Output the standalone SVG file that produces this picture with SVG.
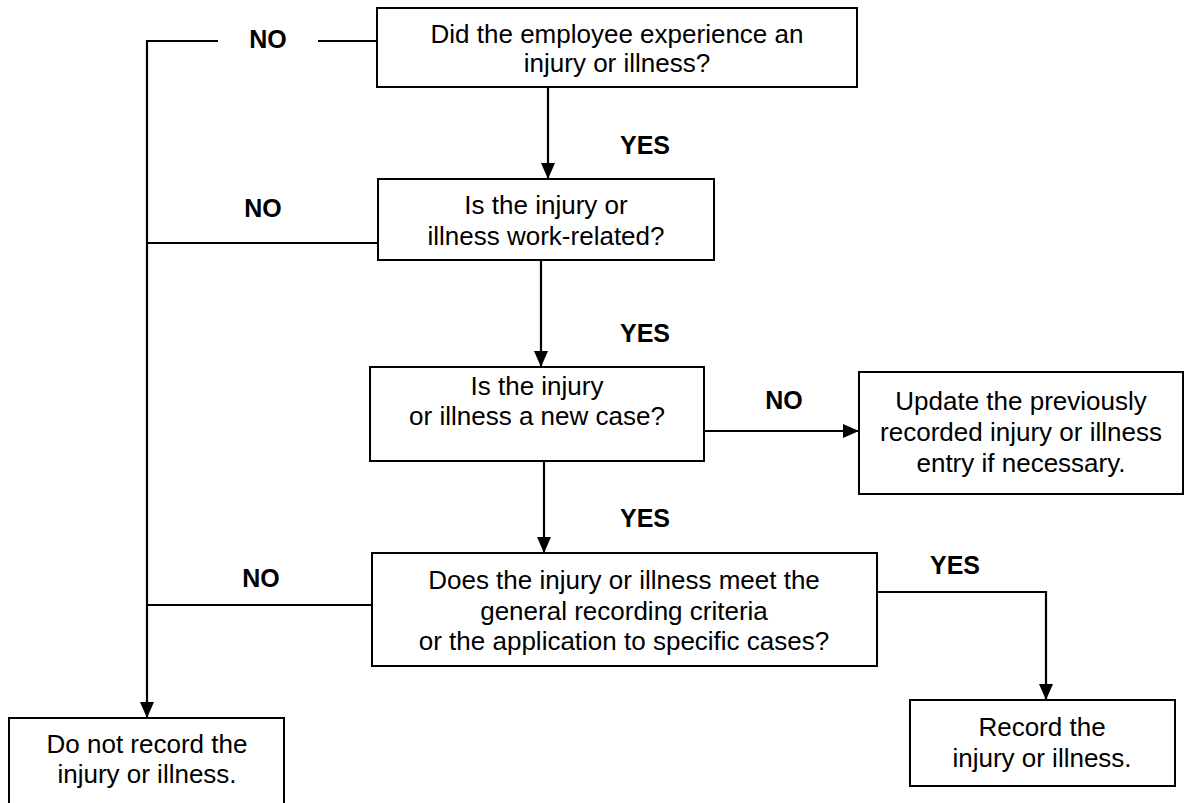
<svg xmlns="http://www.w3.org/2000/svg" width="1185" height="803" viewBox="0 0 1185 803">
<defs>
<style>
.box{fill:#fff;stroke:#000;stroke-width:2}
.t{font-family:"Liberation Sans",Arial,sans-serif;font-size:26px;text-anchor:middle;fill:#000}
.lb{font-family:"Liberation Sans",Arial,sans-serif;font-size:25px;font-weight:bold;text-anchor:middle;fill:#000}
.c{fill:none;stroke:#000;stroke-width:2.2}
</style>
<marker id="ah" markerWidth="16" markerHeight="14" refX="16" refY="7" orient="auto" markerUnits="userSpaceOnUse">
<path d="M0,0 L16,7 L0,14 Z" fill="#000"/>
</marker>
</defs>
<rect width="1185" height="803" fill="#fff"/>
<g id="connectors">
<path class="c" d="M377,41 H318"/>
<path class="c" d="M218,41 H147 V718" marker-end="url(#ah)"/>
<path class="c" d="M548,87 V179" marker-end="url(#ah)"/>
<path class="c" d="M378,243 H147"/>
<path class="c" d="M541,260 V367" marker-end="url(#ah)"/>
<path class="c" d="M704,431 H859" marker-end="url(#ah)"/>
<path class="c" d="M544,461 V553" marker-end="url(#ah)"/>
<path class="c" d="M372,605 H147"/>
<path class="c" d="M877,592 H1046 V700" marker-end="url(#ah)"/>
<text class="lb" x="268" y="48">NO</text>
<text class="lb" x="645" y="154">YES</text>
<text class="lb" x="263" y="217">NO</text>
<text class="lb" x="645" y="342">YES</text>
<text class="lb" x="784" y="409">NO</text>
<text class="lb" x="645" y="527">YES</text>
<text class="lb" x="261" y="587">NO</text>
<text class="lb" x="955" y="574">YES</text>
</g>
<g id="q1">
<rect class="box" x="377" y="8" width="480" height="79"/>
<text class="t" x="617" y="43">Did the employee experience an</text>
<text class="t" x="617" y="72">injury or illness?</text>
</g>
<g id="q2">
<rect class="box" x="378" y="179" width="336" height="81"/>
<text class="t" x="546" y="214">Is the injury or</text>
<text class="t" x="546" y="245">illness work-related?</text>
</g>
<g id="q3">
<rect class="box" x="370" y="367" width="334" height="94"/>
<text class="t" x="537" y="395">Is the injury</text>
<text class="t" x="537" y="425">or illness a new case?</text>
</g>
<g id="update">
<rect class="box" x="859" y="372" width="324" height="122"/>
<text class="t" x="1021" y="410">Update the previously</text>
<text class="t" x="1021" y="441">recorded injury or illness</text>
<text class="t" x="1021" y="472">entry if necessary.</text>
</g>
<g id="q4">
<rect class="box" x="372" y="553" width="505" height="113"/>
<text class="t" x="624" y="589">Does the injury or illness meet the</text>
<text class="t" x="624" y="620">general recording criteria</text>
<text class="t" x="624" y="650">or the application to specific cases?</text>
</g>
<g id="record">
<rect class="box" x="910" y="700" width="265" height="86"/>
<text class="t" x="1042" y="736">Record the</text>
<text class="t" x="1042" y="767">injury or illness.</text>
</g>
<g id="norecord">
<rect class="box" x="9" y="718" width="275" height="100"/>
<text class="t" x="147" y="753">Do not record the</text>
<text class="t" x="147" y="783">injury or illness.</text>
</g>
</svg>
